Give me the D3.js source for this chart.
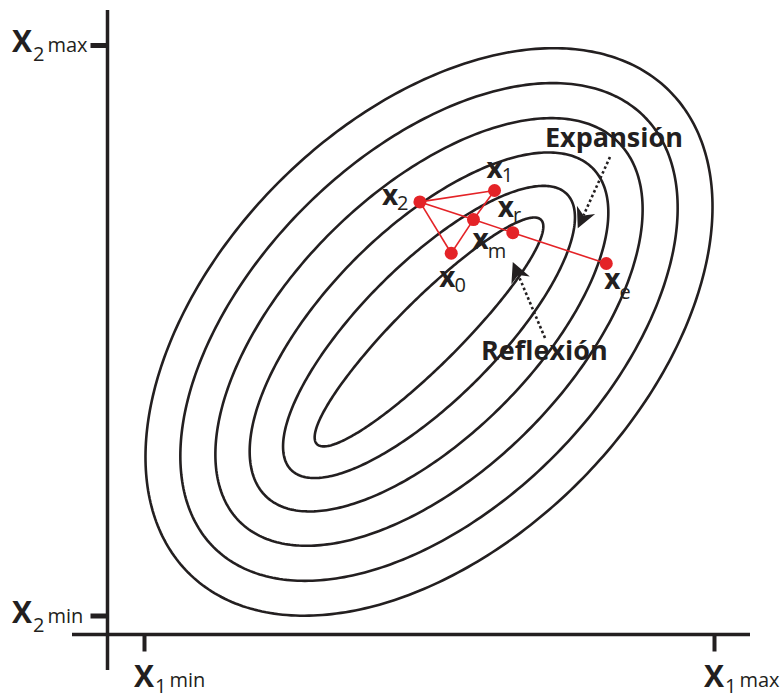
<!DOCTYPE html>
<html><head><meta charset="utf-8">
<script src="https://cdn.jsdelivr.net/npm/d3@7"></script>
<style>body{margin:0;background:#fff} svg{display:block}</style>
</head><body><svg id="c" width="783" height="698"></svg>
<script>
// ---- data ----
const contourMajor = [0.278, 0.342, 0.406, 0.470, 0.534, 0.597];
const contourMinor = [0.0565, 0.119, 0.182, 0.245, 0.309, 0.372];
const contourCenter = [0.5, 0.497];
const contourAngleDeg = 45;

const simplexNames = ["x0", "x1", "x2", "xm", "xr", "xe"];
const simplexSubs  = ["0", "1", "2", "m", "r", "e"];
const simplexX     = [0.539, 0.615, 0.484, 0.578, 0.647, 0.811];
const simplexY     = [0.635, 0.745, 0.725, 0.694, 0.671, 0.617];
const simplexEdges = [["x2","x1"],["x1","xm"],["xm","x0"],["x0","x2"],["x2","xm"],["xm","xr"],["xr","xe"]];

const arrowNames  = ["Expansión", "Reflexión"];
const arrowFromX  = [0.8175, 0.7035];
const arrowFromY  = [0.8037, 0.4864];
const arrowToX    = [0.761, 0.647];
const arrowToY    = [0.679, 0.6196];

const xTickValues = [0, 1];
const xTickSubs   = ["min", "max"];
const yTickValues = [0, 1];
const yTickSubs   = ["min", "max"];

// ---- drawing ----
const svg = d3.select("#c");
const ink = "#231f20", red = "#e42327";
const x = d3.scaleLinear().domain([0, 1]).range([144, 714]);
const y = d3.scaleLinear().domain([0, 1]).range([615.5, 45]);
const font = "'Open Sans', 'Noto Sans', sans-serif";

// axes
const gx = svg.append("g").attr("transform", "translate(0,634.5)")
  .call(d3.axisBottom(x).tickValues(xTickValues).tickSize(17).tickFormat(""));
gx.select(".domain").remove();
gx.selectAll(".tick line").attr("stroke", ink).attr("stroke-width", 4);
const gy = svg.append("g").attr("transform", "translate(107.5,0)")
  .call(d3.axisLeft(y).tickValues(yTickValues).tickSize(17).tickFormat(""));
gy.select(".domain").remove();
gy.selectAll(".tick line").attr("stroke", ink).attr("stroke-width", 5);
svg.append("line").attr("x1", 72).attr("x2", 750).attr("y1", 634.5).attr("y2", 634.5)
  .attr("stroke", ink).attr("stroke-width", 3.5);
svg.append("line").attr("x1", 107.5).attr("x2", 107.5).attr("y1", 10).attr("y2", 670)
  .attr("stroke", ink).attr("stroke-width", 3.5);

// axis labels
function axisLabel(px, base, num, sub, numDy) {
  const t = svg.append("text").attr("x", px).attr("y", base).attr("font-family", font).attr("fill", ink);
  t.append("tspan").attr("font-size", 30).attr("font-weight", 700).text("X");
  t.append("tspan").attr("font-size", 20).attr("dx", 1).attr("dy", numDy).text(num);
  t.append("tspan").attr("font-size", 20).attr("dx", 3).attr("dy", -numDy).text(sub);
}
xTickValues.forEach((v, i) => axisLabel(x(v) - 10, 687, "1", xTickSubs[i], 6));
yTickValues.forEach((v, i) => axisLabel(12, y(v) + 7, "2", yTickSubs[i], 9));

// contours
const phi = contourAngleDeg * Math.PI / 180;
const line = d3.line().x(d => x(d[0])).y(d => y(d[1])).curve(d3.curveLinearClosed);
contourMajor.forEach((a, i) => {
  const b = contourMinor[i];
  const pts = d3.range(0, 360, 1).map(deg => {
    const t = deg * Math.PI / 180;
    return [contourCenter[0] + a * Math.cos(t) * Math.cos(phi) - b * Math.sin(t) * Math.sin(phi),
            contourCenter[1] + a * Math.cos(t) * Math.sin(phi) + b * Math.sin(t) * Math.cos(phi)];
  });
  svg.append("path").attr("d", line(pts)).attr("fill", "none").attr("stroke", ink).attr("stroke-width", 2.6);
});

// arrows
arrowNames.forEach((name, i) => {
  const sx = x(arrowFromX[i]), sy = y(arrowFromY[i]);
  const tx = x(arrowToX[i]), ty = y(arrowToY[i]);
  const len = Math.hypot(tx - sx, ty - sy);
  const dx = (tx - sx) / len, dy = (ty - sy) / len;
  const nx = -dy, ny = dx;
  const L = 20, W = 10;
  const notch = [tx - 0.7 * L * dx, ty - 0.7 * L * dy];
  svg.append("line").attr("x1", sx).attr("y1", sy).attr("x2", notch[0]).attr("y2", notch[1])
    .attr("stroke", ink).attr("stroke-width", 2.6).attr("stroke-dasharray", "2.6 2.6");
  const head = [[tx, ty], [tx - L * dx + W * nx, ty - L * dy + W * ny], notch, [tx - L * dx - W * nx, ty - L * dy - W * ny]];
  svg.append("path").attr("d", "M" + head.map(p => p.join(",")).join("L") + "Z").attr("fill", ink);
});
svg.append("text").attr("x", 545).attr("y", 147).attr("font-family", font).attr("font-size", 27)
  .attr("font-weight", 700).attr("fill", ink).text(arrowNames[0]);
svg.append("text").attr("x", 481).attr("y", 360).attr("font-family", font).attr("font-size", 27)
  .attr("font-weight", 700).attr("fill", ink).text(arrowNames[1]);

// simplex
const idx = n => simplexNames.indexOf(n);
simplexEdges.forEach(([p, q]) => {
  svg.append("line").attr("x1", x(simplexX[idx(p)])).attr("y1", y(simplexY[idx(p)]))
    .attr("x2", x(simplexX[idx(q)])).attr("y2", y(simplexY[idx(q)]))
    .attr("stroke", red).attr("stroke-width", 1.6);
});
svg.selectAll("circle.pt").data(simplexNames).join("circle").attr("class", "pt")
  .attr("cx", (d, i) => x(simplexX[i])).attr("cy", (d, i) => y(simplexY[i]))
  .attr("r", 6.5).attr("fill", red);

const labelOffset = {x0: [-12, 34, 5], x1: [-8, -12, 4], x2: [-38, 3, 5], xm: [-1, 29, 9], xr: [-15, -16, 5], xe: [-2, 25, 10]};
simplexNames.forEach((n, i) => {
  const o = labelOffset[n];
  const t = svg.append("text").attr("x", x(simplexX[i]) + o[0]).attr("y", y(simplexY[i]) + o[1])
    .attr("font-family", font).attr("fill", ink);
  t.append("tspan").attr("font-size", 28).attr("font-weight", 700).text("x");
  t.append("tspan").attr("font-size", 20).attr("font-weight", 500).attr("dx", -1).attr("dy", o[2]).text(simplexSubs[i]);
});
</script></body></html>
